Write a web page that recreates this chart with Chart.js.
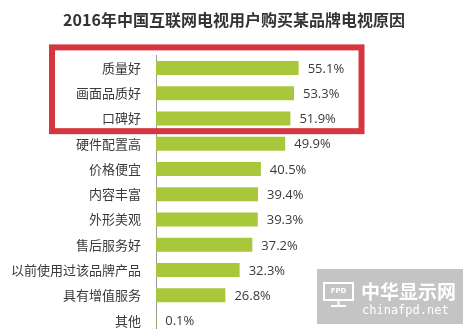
<!DOCTYPE html>
<html>
<head>
<meta charset="utf-8">
<script src="https://cdn.jsdelivr.net/npm/chart.js@4/dist/chart.umd.min.js"></script>
<style>
  html, body { margin: 0; padding: 0; background: #fff; overflow: hidden; }
  canvas { display: block; }
</style>
</head>
<body>
<canvas id="c" width="468" height="356"></canvas>
<script>
// Reasons for buying a given TV brand (2016, internet TV users), share in %
const titleText = '2016年中国互联网电视用户购买某品牌电视原因';
const reasons = ['质量好', '画面品质好', '口碑好', '硬件配置高', '价格便宜', '内容丰富',
                 '外形美观', '售后服务好', '以前使用过该品牌产品', '具有增值服务', '其他'];
const shares = [55.1, 53.3, 51.9, 49.9, 40.5, 39.4, 39.3, 37.2, 32.3, 26.8, 0.1];
const highlightedCount = 3; // top reasons framed in red

const CJK = '"Noto Sans CJK SC", "Noto Sans", sans-serif';

// Percentage printed to the right of every bar
const valueLabels = {
  id: 'valueLabels',
  afterDatasetsDraw(chart) {
    const ctx = chart.ctx;
    const meta = chart.getDatasetMeta(0);
    ctx.save();
    ctx.font = '13px "Open Sans", sans-serif';
    ctx.fillStyle = '#3a3a3a';
    ctx.textAlign = 'left';
    ctx.textBaseline = 'middle';
    meta.data.forEach((bar, i) => {
      ctx.fillText(shares[i].toFixed(1) + '%', bar.x + 9, bar.y + 1);
    });
    ctx.restore();
  }
};

// Red frame around the leading reasons, then the site badge
const decorations = {
  id: 'decorations',
  afterDraw(chart) {
    const ctx = chart.ctx;
    const y = chart.scales.y;
    const step = y.getPixelForValue(1) - y.getPixelForValue(0);
    const top = y.getPixelForValue(0) - step / 2 - 8;
    const bottom = y.getPixelForValue(highlightedCount - 1) + step / 2;
    ctx.save();
    ctx.strokeStyle = '#d5363f';
    ctx.lineWidth = 6;
    ctx.strokeRect(52, top, 309.5, bottom - top);
    ctx.restore();

    // badge
    ctx.save();
    ctx.fillStyle = 'rgba(190,190,190,0.9)';
    ctx.fillRect(317, 269, 146, 55);
    ctx.strokeStyle = '#fff';
    ctx.fillStyle = '#fff';
    ctx.lineWidth = 2;
    ctx.strokeRect(324, 283, 29, 17);
    ctx.font = 'bold 7px "DejaVu Sans", sans-serif';
    ctx.textAlign = 'center';
    ctx.textBaseline = 'middle';
    ctx.fillText('FPD', 338.5, 291.5);
    ctx.beginPath();
    ctx.moveTo(338.5, 300); ctx.lineTo(338.5, 306);
    ctx.moveTo(331, 306); ctx.lineTo(346, 306);
    ctx.stroke();
    ctx.textAlign = 'left';
    ctx.textBaseline = 'alphabetic';
    ctx.font = 'bold 19px ' + CJK;
    ctx.fillText('中华显示网', 361, 299);
    ctx.font = '12px "DejaVu Sans Mono", monospace';
    ctx.fillText('chinafpd.net', 362, 314);
    ctx.restore();
  }
};

new Chart(document.getElementById('c'), {
  type: 'bar',
  data: {
    labels: reasons,
    datasets: [{
      data: shares,
      backgroundColor: '#a8c73a',
      borderWidth: 0,
      categoryPercentage: 1,
      barPercentage: 0.55
    }]
  },
  options: {
    indexAxis: 'y',
    responsive: false,
    animation: false,
    layout: { padding: 0 },
    plugins: {
      legend: { display: false },
      tooltip: { enabled: false },
      title: {
        display: true,
        text: titleText,
        color: '#333',
        font: { family: CJK, size: 16, weight: 'bold' },
        padding: { top: 10, bottom: 26.2 }
      }
    },
    scales: {
      x: {
        display: false,
        min: 0,
        max: 120.5
      },
      y: {
        afterFit(scale) { scale.width = 156; },
        grid: { display: false, drawTicks: false },
        border: { display: true, color: '#9a9a9a', width: 1 },
        ticks: {
          color: '#3a3a3a',
          padding: 15,
          font: { family: CJK, size: 13 }
        }
      }
    }
  },
  plugins: [valueLabels, decorations]
});
</script>
</body>
</html>
